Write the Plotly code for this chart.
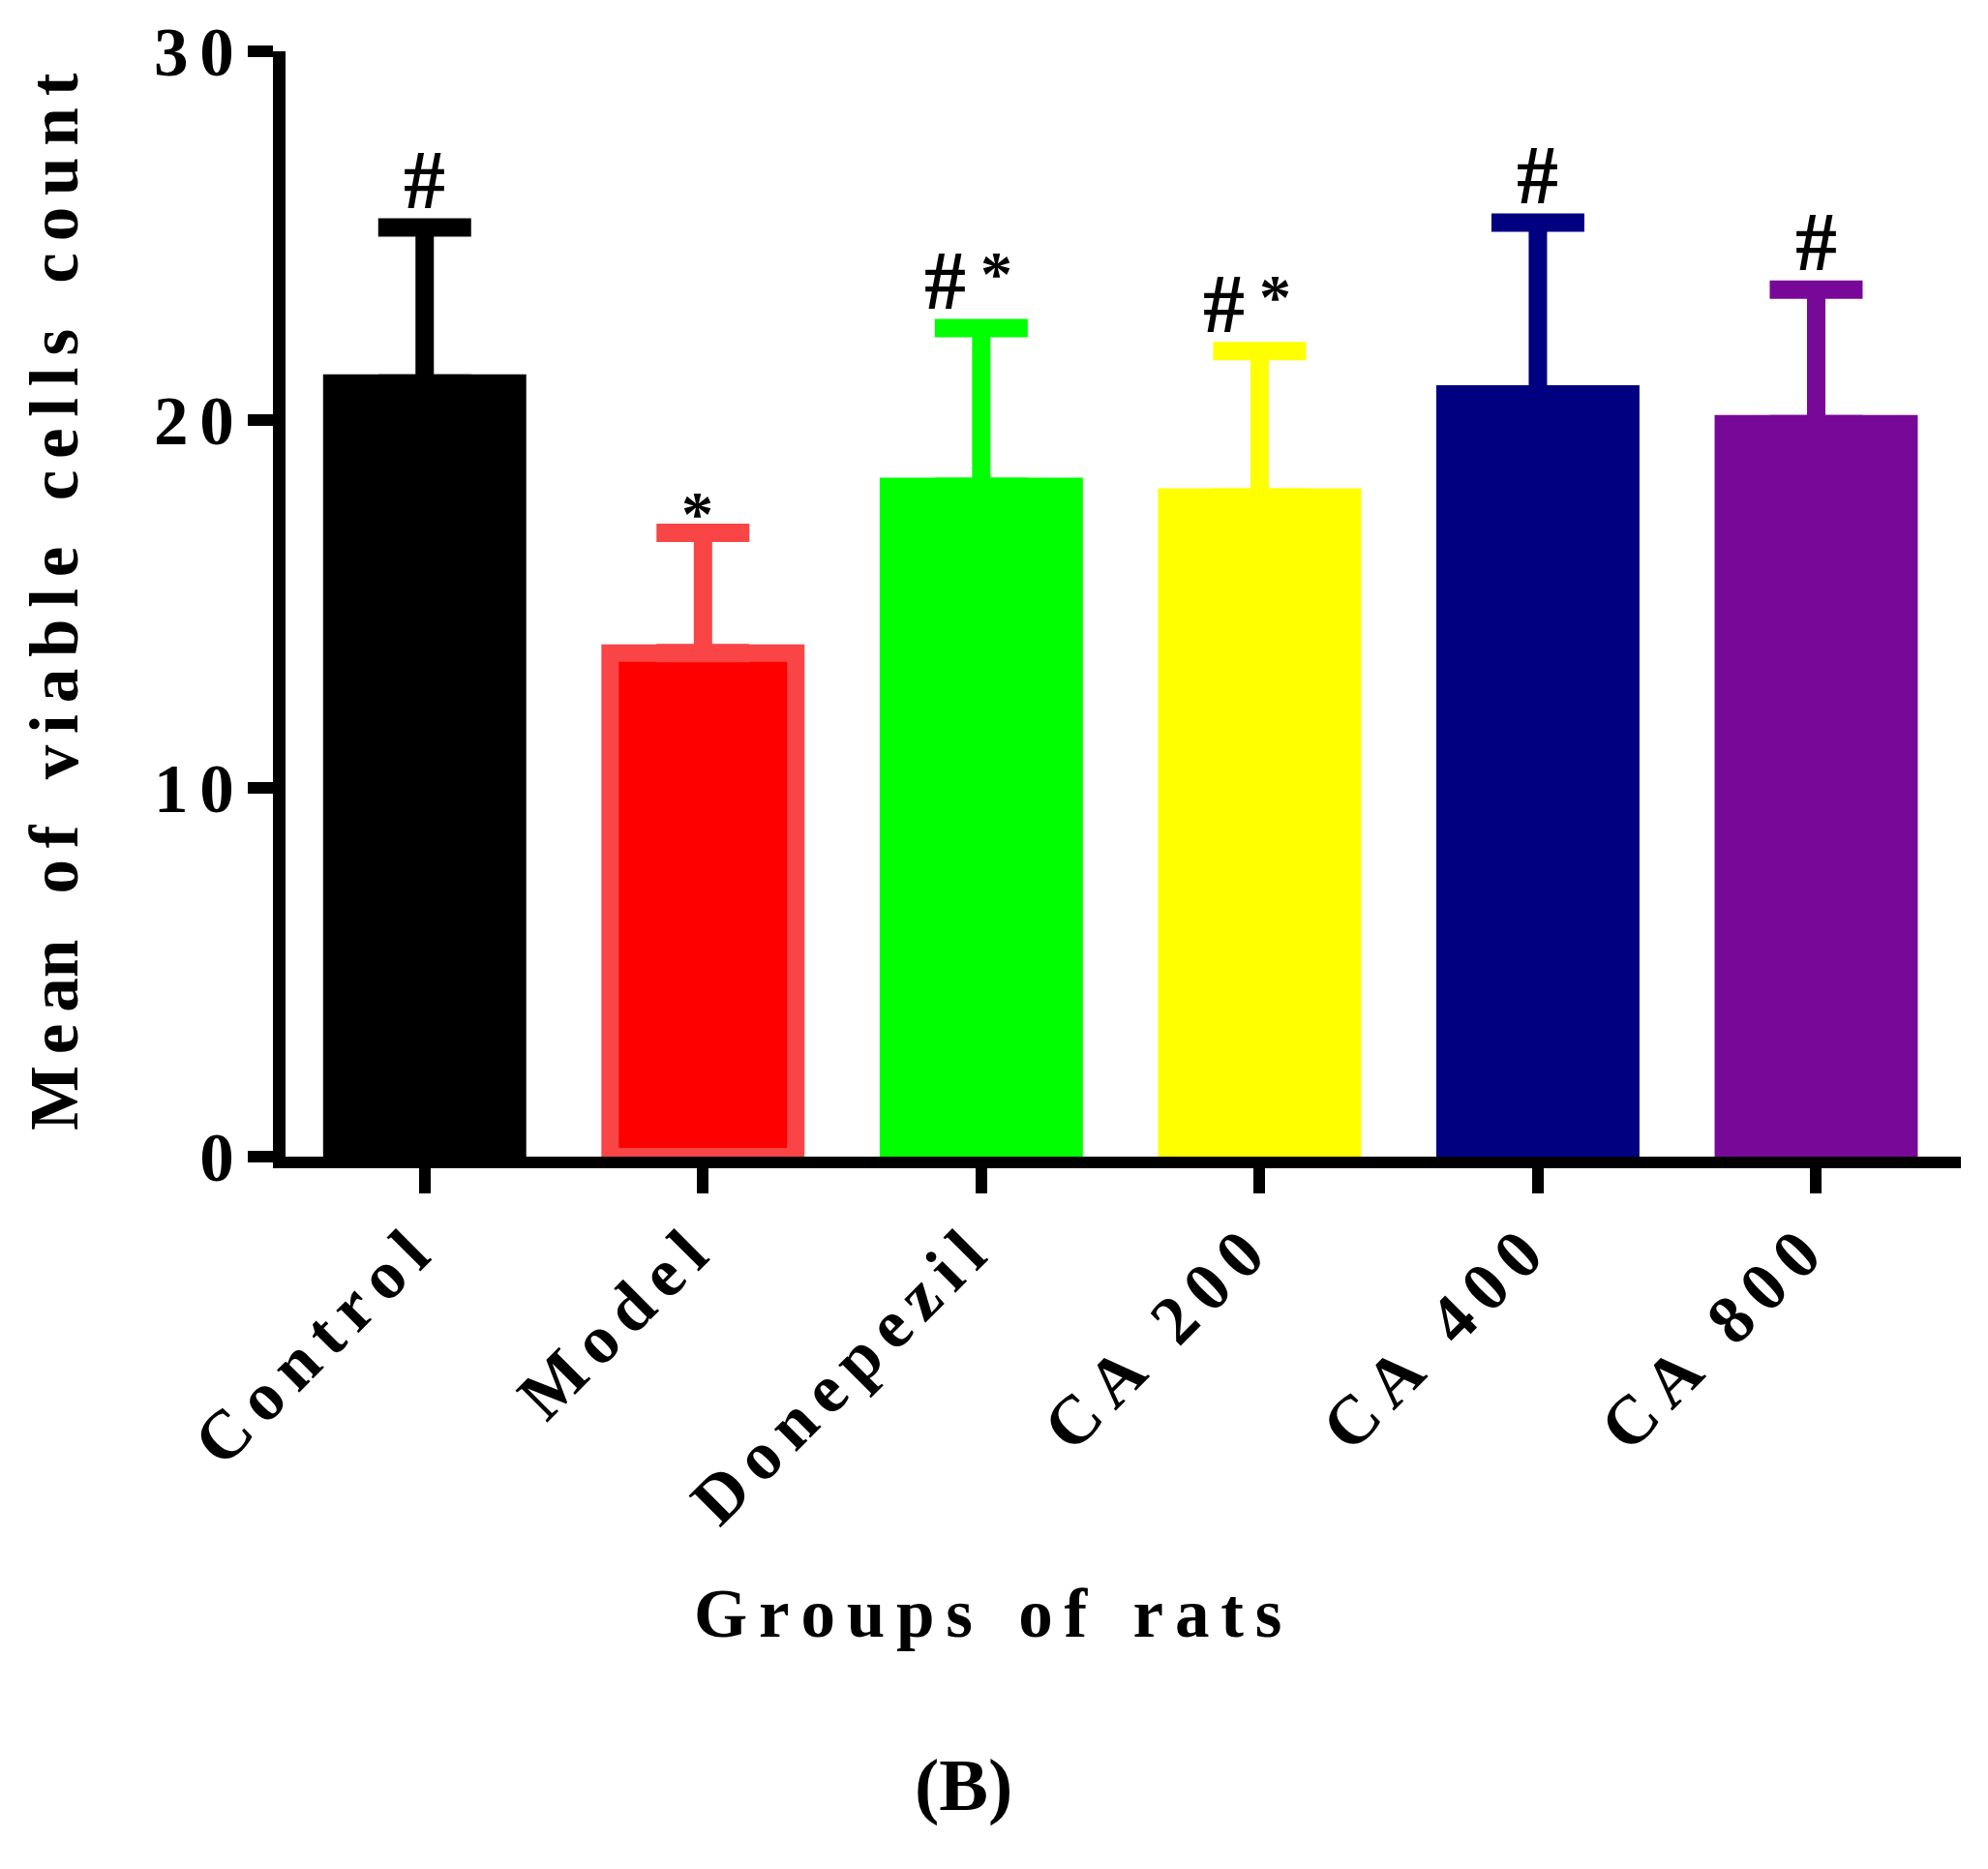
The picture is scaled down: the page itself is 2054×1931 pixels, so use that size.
# -*- coding: utf-8 -*-
# what : viable cells count per group of rats (bar + SD, GraphPad look)
#---------------------------------------------------------------------------
import plotly.graph_objects as go

#---------------
# data
groups = ["Control", "Model", "Donepezil", "CA 200", "CA 400", "CA 800"]
means = [21.23, 13.67, 18.43, 18.14, 20.94, 20.13]
sds = [3.99, 3.26, 4.06, 3.72, 4.41, 3.40]
marks = ["#", "*", "#*", "#*", "#", "#"]
y_ticks = [0, 10, 20, 30]

# styles
fill = ["#000000", "#FF0000", "#00FF00", "#FFFF00", "#000080", "#780898"]
edge = ["#000000", "#F94545", "#00FF00", "#FFFF00", "#000080", "#780898"]
edge_w = [0, 18, 0, 0, 0, 0]

FONT = "Liberation Serif, Times New Roman, serif"
SP = "\u2006"               # small gap between letters
WSP = "\u2006\u2005\u2006"  # gap between words
WSP2 = "\u2006\u2004\u2006" # a bit wider, for the titles

def spaced(s, wsp=WSP):
  return wsp.join(SP.join(w) for w in s.split(" "))

# plot box in pixels
W_, H_ = 2054, 1931
L, R, T, B = 287, 2018, 45, 1187
def px(x):
  return (x - L) / (R - L)
def py(y):
  return (B - y) / (B - T)

ERR_T = 19                           # error bar thickness (px)
half_cap = ERR_T / 2 / ((B - T) / 30)  # lower cap hidden inside the bar

#---------------
fig = go.Figure()
for g, m, s, fc, ec, ew in zip(groups, means, sds, fill, edge, edge_w):
  fig.add_trace(go.Bar(
    x=[g], y=[m],
    width=0.73 if ew == 0 else 0.73 - ew / 287.5,
    marker=dict(color=fc, line=dict(color=ec, width=ew)),
    error_y=dict(type="data", symmetric=False, array=[s],
                 arrayminus=[half_cap if ew == 0 else 0],
                 color=ec, thickness=ERR_T, width=48),
    showlegend=False,
  ))

# significance marks, one annotation per symbol
for g, m, s, mk in zip(groups, means, sds, marks):
  offs = [0] if len(mk) == 1 else [-37, 16]
  for ch, xs in zip(mk, offs):
    if ch == "#":
      size, ys = 86, -1
    else:
      size = 66
      ys = 18 if len(mk) > 1 else -18
      if len(mk) == 1:
        xs = -6
    fig.add_annotation(x=g, y=m + s, text=ch, showarrow=False,
                       xanchor="center", yanchor="bottom", xshift=xs, yshift=ys,
                       font=dict(family=FONT, size=size, color="black", weight="bold"))

# axis titles and panel letter
fig.add_annotation(xref="paper", yref="paper", x=px(48), y=py(614),
                   text="M" + SP + "e" + SP + "an" + WSP2 + spaced("of viable cells count", WSP2),
                   textangle=-90, showarrow=False, xanchor="center", yanchor="middle",
                   font=dict(family=FONT, size=71, color="black", weight="bold"))
fig.add_annotation(xref="paper", yref="paper", x=px(1012), y=py(1659),
                   text=spaced("Groups of rats", WSP2), showarrow=False,
                   xanchor="center", yanchor="middle",
                   font=dict(family=FONT, size=71, color="black", weight="bold"))
fig.add_annotation(xref="paper", yref="paper", x=px(987), y=py(1836),
                   text="(B)", showarrow=False, xanchor="center", yanchor="middle",
                   font=dict(family=FONT, size=76, color="black", weight="bold"))

fig.update_layout(
  width=W_, height=H_,
  margin=dict(l=L, r=W_ - R, t=T, b=H_ - B, autoexpand=False),
  plot_bgcolor="white", paper_bgcolor="white",
  barmode="overlay",
  font=dict(family=FONT, size=71, color="black", weight="bold"),
  xaxis=dict(type="category", range=[-0.5, 5.52], showgrid=False, zeroline=False,
             showline=True, linecolor="black", linewidth=12,
             ticks="outside", ticklen=26, tickwidth=12, tickcolor="black",
             tickvals=groups, ticktext=[spaced(g) + SP + SP for g in groups],
             tickangle=-45, ticklabelstandoff=-24,
             tickfont=dict(family=FONT, size=71, color="black", weight="bold")),
  yaxis=dict(range=[0, 30], showgrid=False, zeroline=False,
             showline=True, linecolor="black", linewidth=13,
             ticks="outside", ticklen=26, tickwidth=12, tickcolor="black",
             tickvals=y_ticks, ticktext=[SP.join(str(v)) for v in y_ticks],
             tickfont=dict(family=FONT, size=71, color="black", weight="bold")),
)

fig.write_html("out.html")
